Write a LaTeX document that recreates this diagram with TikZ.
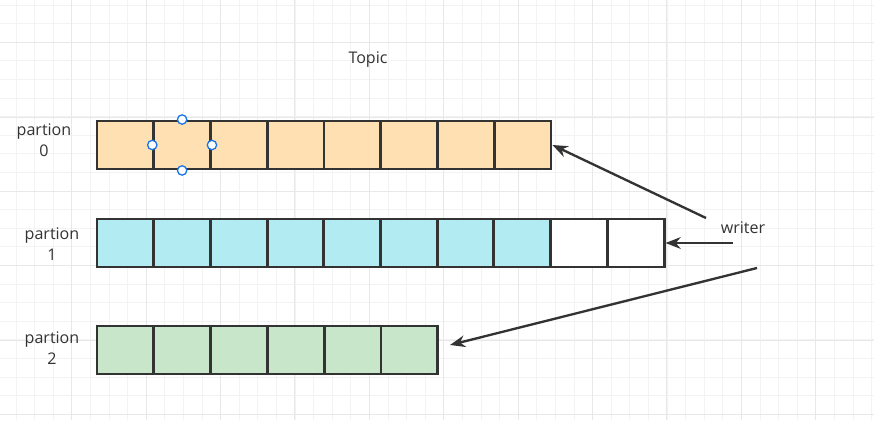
\documentclass[tikz,border=0pt]{standalone}
\usepackage{fontspec}
\setmainfont{Open Sans}
\usetikzlibrary{arrows.meta}
\definecolor{edgegray}{HTML}{333333}
\definecolor{orangefill}{HTML}{FFE0B2}
\definecolor{bluefill}{HTML}{B2EBF2}
\definecolor{greenfill}{HTML}{C8E6C9}
\definecolor{gridminor}{HTML}{F3F3F3}
\definecolor{gridmajor}{HTML}{E8E8E8}
\definecolor{handleblue}{HTML}{1A73E8}

\tikzset{
  cell/.style={draw=edgegray, line width=2.5pt, minimum width=1.7025cm, minimum height=1.44cm, inner sep=0pt},
  label/.style={text=edgegray, font=\fontsize{13.7pt}{17.9pt}\selectfont, align=center},
  feed/.style={draw=edgegray, line width=2pt, -{Stealth[length=13pt,width=10pt]}},
  handle/.style={circle, draw=handleblue, fill=white, line width=1.1pt, minimum size=8pt, inner sep=0pt}
}

\begin{document}
\begin{tikzpicture}[x=0.03cm, y=-0.03cm]
\useasboundingbox (0,0) rectangle (874,420);
% background grid
\foreach \i in {0,...,46} \draw[gridminor, line width=0.6pt] ({16+18.6*\i},0) -- ({16+18.6*\i},420);
\foreach \j in {0,...,22} \draw[gridminor, line width=0.6pt] (0,{5+18.6*\j}) -- (874,{5+18.6*\j});
\foreach \i in {0,...,11} \draw[gridmajor, line width=0.8pt] ({71.7+74.4*\i},0) -- ({71.7+74.4*\i},420);
\foreach \j in {0,...,5} \draw[gridmajor, line width=0.8pt] (0,{42.7+74.4*\j}) -- (874,{42.7+74.4*\j});

\node[label] (topic) at (368,60) {Topic};

% partion 0
\node[label] (lab0) at (44,140) {partion\\0};
\foreach \c in {1,...,8}
  \node[cell, fill=orangefill] (p0c\c) at ({97+56.75*(\c-0.5)},145) {};
% partion 1
\node[label] (lab1) at (52,244) {partion\\1};
\foreach \c in {1,...,8}
  \node[cell, fill=bluefill] (p1c\c) at ({97+56.7*(\c-0.5)},243) {};
\foreach \c in {9,10}
  \node[cell, fill=white] (p1c\c) at ({97+56.7*(\c-0.5)},243) {};
% partion 2
\node[label] (lab2) at (52,348) {partion\\2};
\foreach \c in {1,...,6}
  \node[cell, fill=greenfill] (p2c\c) at ({97+56.8*(\c-0.5)},350) {};

% selection handles
\foreach \a in {north,west,east,south}
  \node[handle] at (p0c2.\a) {};

% writer
\node[label] (writer) at (743,228) {writer};
\coordinate (w0) at (706,218);
\coordinate (w1) at (733,243);
\coordinate (w2) at (757,268);
\coordinate (t2) at (450,345);
\draw[feed] (w0) -- (p0c8.east);
\draw[feed] (w1) -- (p1c10.east);
\draw[feed] (w2) -- (t2);
\end{tikzpicture}
\end{document}
